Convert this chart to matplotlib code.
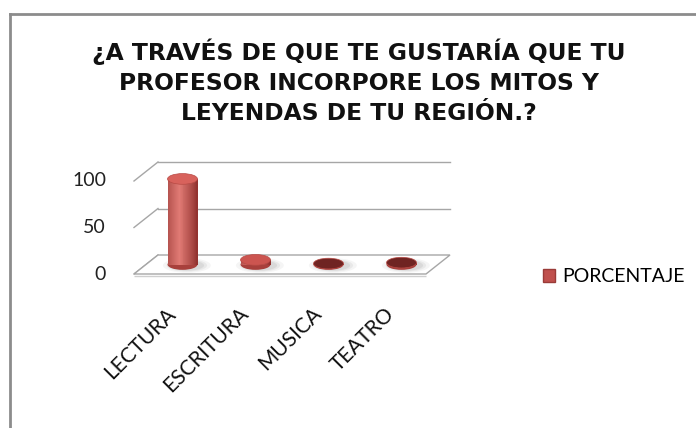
import numpy as np
import matplotlib
matplotlib.use('Agg')
import matplotlib.pyplot as plt
import matplotlib.transforms as mtransforms
from matplotlib.patches import Ellipse, Rectangle, Polygon, Patch
from matplotlib.lines import Line2D
from matplotlib.colors import to_rgb

# datos
categorias = ['LECTURA', 'ESCRITURA', 'MUSICA', 'TEATRO']
porcentaje = [92, 5, 1, 2]
ticks_y = [0, 50, 100]
serie = 'PORCENTAJE'
titulo = '¿A TRAVÉS DE QUE TE GUSTARÍA QUE TU\nPROFESOR INCORPORE LOS MITOS Y\nLEYENDAS DE TU REGIÓN.?'

W, H = 696, 428
fig = plt.figure(figsize=(W / 100, H / 100), dpi=100)
fig.patch.set_facecolor('white')

# pared del fondo
ax = fig.add_axes([158 / W, (H - 255) / H, 292 / W, 93 / H])
ax.set_xlim(-0.5, len(categorias) - 0.5)
ax.set_ylim(0, 100)
ax.axis('off')

frente = mtransforms.offset_copy(ax.transData, fig=fig, x=-24, y=-19, units='dots')
medio = mtransforms.offset_copy(ax.transData, fig=fig, x=-12, y=-9.5, units='dots')
inv = ax.transData.inverted()

x0, x1 = ax.get_xlim()
gris = '#a6a6a6'

# rejilla (fondo y lado izquierdo)
for v in ticks_y:
    if v > 0:
        ax.plot([x0, x1], [v, v], color=gris, lw=1, clip_on=False, zorder=1)
    p_back = (x0, v)
    p_front = inv.transform(frente.transform((x0, v)))
    ax.plot([p_back[0], p_front[0]], [p_back[1], p_front[1]], color=gris, lw=1, clip_on=False, zorder=1)
    ax.text(x0, v, str(v), transform=mtransforms.offset_copy(frente, fig=fig, x=-28, y=0, units='dots'),
            ha='right', va='center', fontsize=14, family='Lato', color='#222222')

# suelo
esquinas = [(x0, 0), (x1, 0)]
esquinas += [tuple(inv.transform(frente.transform(p))) for p in [(x1, 0), (x0, 0)]]
suelo = Polygon(esquinas, closed=True, facecolor='white', edgecolor=gris, lw=1, zorder=1, clip_on=False)
ax.add_patch(suelo)
borde = Polygon(esquinas[2:], closed=False, fill=False, edgecolor='#cfcfcf', lw=1, zorder=1, clip_on=False,
                transform=mtransforms.offset_copy(ax.transData, fig=fig, x=0, y=-2, units='dots'))
ax.add_patch(borde)

# cilindros
oscuro = np.array(to_rgb('#8e2f2c'))
claro = np.array(to_rgb('#e07a74'))
color_tapa = ['#d8625c', '#cc5550', '#6f2422', '#6f2422']
ancho = 0.41
alto_elipse = 11.5
n = 30
for i, v in enumerate(porcentaje):
    for s, a in [(1.6, 0.12), (1.35, 0.18), (1.15, 0.25)]:
        sombra = Ellipse((i + 0.06, -1), ancho * s, alto_elipse * s * 0.85, transform=medio,
                         facecolor='#b0b0b0', edgecolor='none', alpha=a, zorder=2, clip_on=False)
        ax.add_patch(sombra)
    xs = np.linspace(i - ancho / 2, i + ancho / 2, n + 1)
    for k in range(n):
        t = (k + 0.5) / n
        f = max(0.0, 1 - abs(t - 0.38) / 0.62) ** 0.8
        c = oscuro + (claro - oscuro) * f
        r = Rectangle((xs[k], 0), xs[k + 1] - xs[k] + 0.002, v, transform=medio,
                      facecolor=c, edgecolor='none', zorder=3, clip_on=False)
        ax.add_patch(r)
    base = Ellipse((i, 0), ancho, alto_elipse, transform=medio,
                   facecolor='#a8403c', edgecolor='none', zorder=2.5, clip_on=False)
    ax.add_patch(base)
    tapa = Ellipse((i, v), ancho, alto_elipse, transform=medio,
                   facecolor=color_tapa[i], edgecolor='#b84a45', lw=0.5, zorder=4, clip_on=False)
    ax.add_patch(tapa)

# etiquetas de categoria
t_cat = mtransforms.offset_copy(medio, fig=fig, x=-17, y=-39, units='dots')
for i, c in enumerate(categorias):
    ax.text(i, 0, c, transform=t_cat, rotation=45, rotation_mode='anchor',
            ha='right', va='top', fontsize=15, family='Lato', color='#111111')

# titulo
for j, linea in enumerate(titulo.split('\n')):
    fig.text(359 / W, 1 - (60 + 30 * j) / H, linea, ha='center', va='baseline', fontsize=16.8,
             fontweight='bold', family='DejaVu Sans', color='#111111')

# leyenda
fig.legend(handles=[Patch(facecolor='#c0504d', edgecolor='#9a3b38')], labels=[serie],
           loc='center left', bbox_to_anchor=(533 / W, 1 - 277 / H), frameon=False,
           handlelength=0.65, handleheight=0.65, handletextpad=0.35, borderpad=0,
           prop={'family': 'Lato', 'size': 14})

# borde
fig.add_artist(Line2D([10 / W, 10 / W], [0, 1 - 14 / H], transform=fig.transFigure, color='#8c8c8c', lw=2))
fig.add_artist(Line2D([10 / W, 1], [1 - 14 / H, 1 - 14 / H], transform=fig.transFigure, color='#8c8c8c', lw=2))

fig.savefig('out.png', dpi=100)
